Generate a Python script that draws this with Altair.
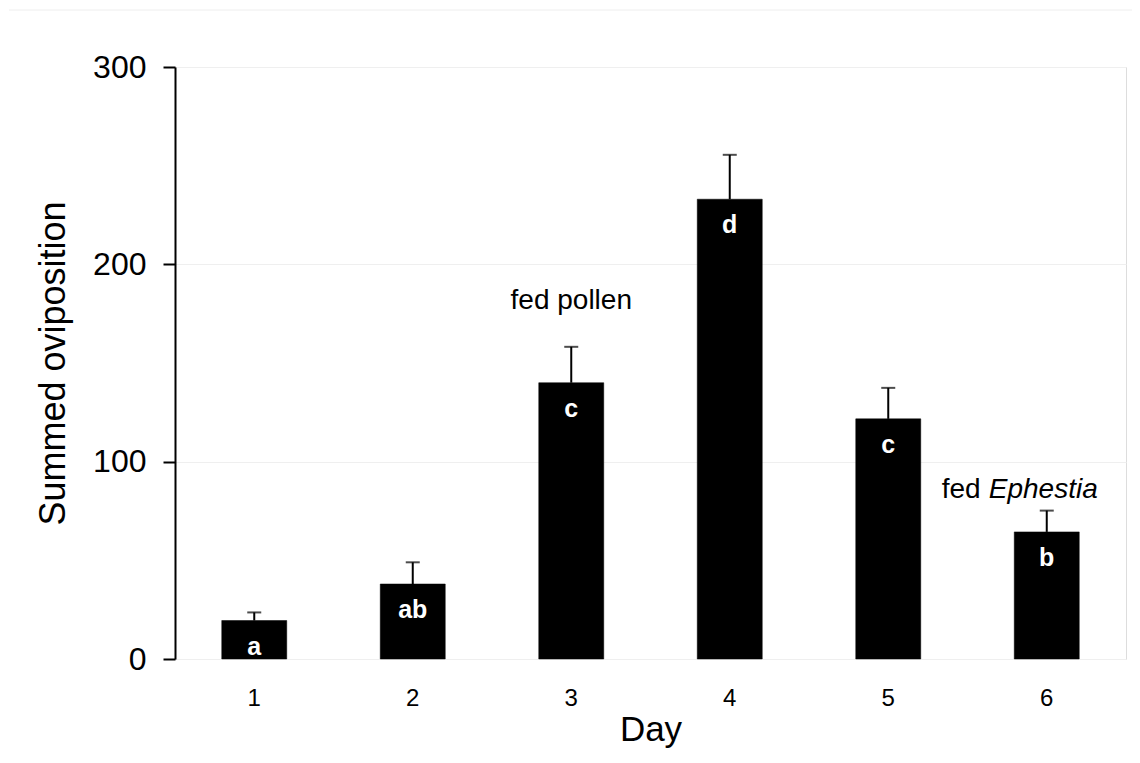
import altair as alt
import pandas as pd

days = ["1", "2", "3", "4", "5", "6"]
means = [19.5, 38, 140, 233, 121.7, 64.4]
upper = [23.6, 49, 158.2, 255.5, 137.4, 75.2]
letters = ["a", "ab", "c", "d", "c", "b"]

note_text = ["fed pollen", "fed", "Ephestia"]
note_day = ["3", "6", "6"]
note_y = [181.5, 85.6, 85.6]

FONT = "Liberation Sans"
W, H = 951, 592

df = pd.DataFrame({"day": days, "mean": means, "upper": upper, "letter": letters})

xenc = alt.X("day:N", sort=days, title="Day",
             scale=alt.Scale(paddingInner=0.59, paddingOuter=0.295),
             axis=alt.Axis(labelAngle=0, domain=False, ticks=False, labelFontSize=24,
                           labelPadding=27, titleFontSize=35, titlePadding=2,
                           titleFontWeight="normal", labelColor="#000", titleColor="#000",
                           labelFont=FONT, titleFont=FONT, grid=False))
yscale = alt.Scale(domain=[0, 300])

base = alt.Chart(df)

bars = base.mark_bar(color="black", stroke="black", strokeWidth=0.5).encode(
    x=xenc,
    y=alt.Y("mean:Q", scale=yscale, title="Summed oviposition",
            axis=alt.Axis(values=[0, 100, 200, 300], domainColor="#000", domainWidth=2,
                          tickColor="#000", tickWidth=2, tickSize=12, labelPadding=17,
                          labelFontSize=32, titleFontSize=36, titlePadding=20,
                          titleFontWeight="normal", labelColor="#000", titleColor="#000",
                          labelFont=FONT, titleFont=FONT, grid=True, gridColor="#efefef",
                          gridWidth=1)),
)

err = base.mark_rule(color="black", strokeWidth=2).encode(
    x=alt.X("day:N", sort=days), y=alt.Y("mean:Q", scale=yscale), y2="upper:Q")

caps = base.mark_tick(color="black", thickness=2, size=14, orient="horizontal").encode(
    x=alt.X("day:N", sort=days), y=alt.Y("upper:Q", scale=yscale))

lab = base.mark_text(color="white", fontWeight="bold", fontSize=25, font=FONT,
                     baseline="middle", dy=26).encode(
    x=alt.X("day:N", sort=days), y=alt.Y("mean:Q", scale=yscale), text="letter:N")

notes = pd.DataFrame({"t": note_text, "day": note_day, "y": note_y})
n1 = alt.Chart(notes.iloc[[0]]).mark_text(fontSize=28, font=FONT, color="#000",
                                          baseline="middle", align="center").encode(
    x=alt.X("day:N", sort=days), y=alt.Y("y:Q", scale=yscale), text="t:N")
n2 = alt.Chart(notes.iloc[[1]]).mark_text(fontSize=28, font=FONT, color="#000",
                                          baseline="middle", align="left", dx=-105).encode(
    x=alt.X("day:N", sort=days), y=alt.Y("y:Q", scale=yscale), text="t:N")
n3 = alt.Chart(notes.iloc[[2]]).mark_text(fontSize=28, font=FONT, color="#000", fontStyle="italic",
                                          baseline="middle", align="left", dx=-58).encode(
    x=alt.X("day:N", sort=days), y=alt.Y("y:Q", scale=yscale), text="t:N")

topline = alt.Chart(pd.DataFrame({"k": [0]})).mark_rule(color="#eeeeee", strokeWidth=1, clip=False).encode(
    x=alt.value(-166), x2=alt.value(970), y=alt.value(-57))

chart = alt.layer(bars, err, caps, lab, n1, n2, n3, topline).properties(
    width=W, height=H,
    autosize=alt.AutoSizeParams(type="none"),
    padding={"left": 167, "top": 59, "right": 6, "bottom": 96},
).configure_view(stroke=None).configure(background="white")

chart.save("out.html", embed_options={"renderer": "svg", "actions": False})
